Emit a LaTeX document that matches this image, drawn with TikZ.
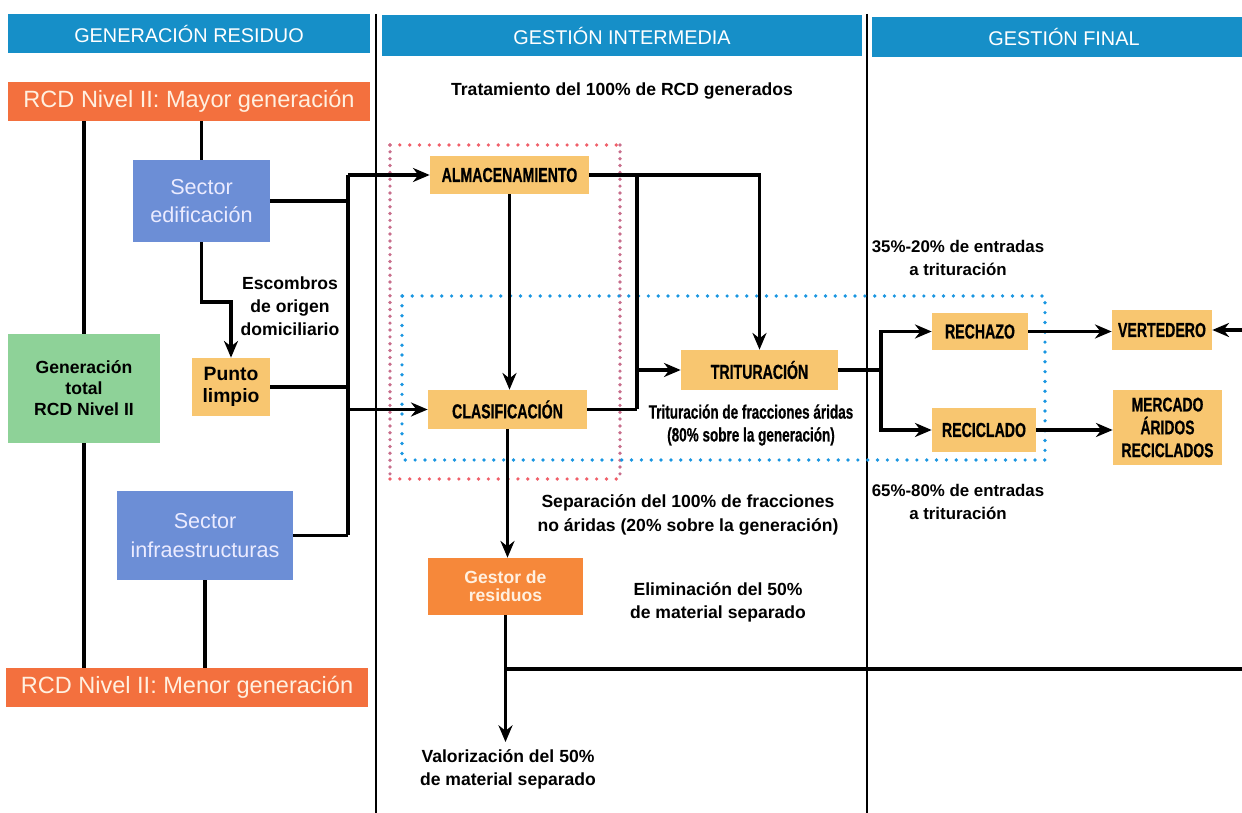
\documentclass[tikz,border=0pt]{standalone}
\usepackage{fontspec}
\setmainfont{Liberation Sans}
\newfontfamily\cond[FakeStretch=0.7,BoldFeatures={FakeBold=0.6}]{Liberation Sans}
\usetikzlibrary{arrows.meta}
\definecolor{hblue}{RGB}{22,143,200}
\definecolor{lorange}{RGB}{243,112,62}
\definecolor{sblue}{RGB}{108,142,214}
\definecolor{lgreen}{RGB}{142,210,152}
\definecolor{yel}{RGB}{248,198,112}
\definecolor{gorange}{RGB}{246,136,58}
\definecolor{dred}{RGB}{240,95,105}
\definecolor{dmauve}{RGB}{200,110,140}
\definecolor{dblue}{RGB}{25,150,225}
\tikzset{
  hdr/.style={fill=hblue,text=white,inner sep=0pt,font=\fontsize{11.3}{13}\selectfont},
  lvl/.style={fill=lorange,text=white!88!orange,inner sep=0pt,minimum width=7.24cm,minimum height=0.78cm,font=\fontsize{13.4}{15}\selectfont},
  sect/.style={fill=sblue,text=white!92!blue,inner sep=0pt,align=center,font=\fontsize{12.3}{16.2}\selectfont},
  ybox/.style={fill=yel,inner sep=0pt,align=center,font=\cond\bfseries\fontsize{11.5}{13}\selectfont},
  lbl/.style={align=center,inner sep=0pt,font=\bfseries\fontsize{10}{13.2}\selectfont},
  conn/.style={line width=1.9pt},
  arr/.style={line width=1.9pt,-{Stealth[length=9.5pt,width=8pt]}},
  sepline/.style={line width=1.4pt},
  dots/.style={line width=2.1pt,line cap=round,dash pattern=on 0pt off 5.6pt},
  densedots/.style={line width=2.1pt,line cap=round,dash pattern=on 0pt off 3.9pt},
}
\begin{document}
\begin{tikzpicture}[x=0.02cm,y=-0.02cm]
\clip (0,0) rectangle (1242,813);
\fill[white] (0,0) rectangle (1242,813);
% separators
\draw[sepline] (376,14) -- (376,813);
\draw[sepline] (867,14) -- (867,813);
% headers
\node[hdr,minimum width=7.24cm,minimum height=0.78cm] (h1) at (189,33.5) {GENERACIÓN RESIDUO};
\node[hdr,minimum width=9.6cm,minimum height=0.82cm] (h2) at (622,35.5) {GESTIÓN INTERMEDIA};
\node[hdr,minimum width=7.68cm,minimum height=0.8cm] (h3) at (1064,37) {GESTIÓN FINAL};
% dotted frames
\draw[dots,dred] (390,145) -- (620,145);
\draw[dots,dred] (390,479) -- (620,479);
\draw[densedots,dmauve] (390,145) -- (390,479);
\draw[densedots,dmauve] (620,145) -- (620,479);
\draw[dots,dblue] (402,296) rectangle (1045,460);
% left column
\node[lvl] (m1) at (189,101.5) {RCD Nivel II: Mayor generación};
\node[lvl] (m2) at (187,687.5) {RCD Nivel II: Menor generación};
\node[sect,minimum width=2.74cm,minimum height=1.64cm] (se) at (201.5,201) {Sector\\edificación};
\node[fill=lgreen,inner sep=0pt,align=center,minimum width=3.04cm,minimum height=2.18cm,font=\bfseries\fontsize{10}{12}\selectfont] (gt) at (84,388.5) {Generación\\total\\RCD Nivel II};
\node[fill=yel,inner sep=0pt,align=center,minimum width=1.56cm,minimum height=1.16cm,font=\bfseries\fontsize{11}{12.5}\selectfont] (pl) at (231,387) {Punto\\limpio};
\node[sect,minimum width=3.52cm,minimum height=1.78cm] (si) at (205,535.5) {Sector\\infraestructuras};
\node[lbl] (esc) at (290,306) {Escombros\\de origen\\domiciliario};
% middle column
\node[lbl] (trat) at (622,91) {Tratamiento del 100\% de RCD generados};
\node[ybox,minimum width=3.18cm,minimum height=0.76cm] (al) at (509.5,175) {ALMACENAMIENTO};
\node[ybox,minimum width=3.18cm,minimum height=0.78cm] (cl) at (507.5,409.5) {CLASIFICACIÓN};
\node[ybox,minimum width=3.14cm,minimum height=0.8cm] (tr) at (759.5,370) {TRITURACIÓN};
\node[align=center,inner sep=0pt,font=\cond\bfseries\fontsize{11}{13}\selectfont] (trl) at (751,425) {Trituración de fracciones áridas\\(80\% sobre la generación)};
\node[lbl] (sep) at (688,515) {Separación del 100\% de fracciones\\no áridas (20\% sobre la generación)};
\node[fill=gorange,text=white!88!orange,inner sep=0pt,align=center,minimum width=3.1cm,minimum height=1.14cm,font=\bfseries\fontsize{10}{10.5}\selectfont] (gr) at (505.5,586.5) {Gestor de\\residuos};
\node[lbl] (eli) at (718,602) {Eliminación del 50\%\\de material separado};
\node[lbl] (val) at (508,769) {Valorización del 50\%\\de material separado};
% right column
\node[lbl,font=\bfseries\fontsize{9.6}{13}\selectfont] (p35) at (958,258) {35\%-20\% de entradas\\a trituración};
\node[lbl,font=\bfseries\fontsize{9.6}{13}\selectfont] (p65) at (958,502) {65\%-80\% de entradas\\a trituración};
\node[ybox,minimum width=1.92cm,minimum height=0.74cm] (re) at (980,331.5) {RECHAZO};
\node[ybox,minimum width=2.08cm,minimum height=0.88cm] (rc) at (984,430) {RECICLADO};
\node[ybox,minimum width=2.0cm,minimum height=0.8cm] (ve) at (1162,330) {VERTEDERO};
\node[ybox,minimum width=2.18cm,minimum height=1.5cm,font=\cond\bfseries\fontsize{11.3}{13}\selectfont] (me) at (1167.5,427.5) {MERCADO\\ÁRIDOS\\RECICLADOS};
% coordinates
\coordinate (b1) at (348,175);
\coordinate (b2) at (348,535.5);
\coordinate (k1) at (201.5,302);
\coordinate (j1) at (637,175);
\coordinate (j3) at (881,370);
\coordinate (v1) at (505.5,742);
\coordinate (hb) at (505.5,669);
\coordinate (e2) at (1242,669);
\coordinate (e1) at (1242,330);
% left connectors
\draw[conn] (gt.north) -- (gt.north |- m1.south);
\draw[conn] (gt.south) -- (gt.south |- m2.north);
\draw[conn] (se.north) -- (se.north |- m1.south);
\draw[conn] (si.south) -- (si.south |- m2.north);
\draw[arr] (se.south) -- (k1) -| (pl.north);
\draw[conn] (se.east) -- (se.east -| b1);
\draw[conn] (pl.east) -- (pl.east -| b1);
\draw[conn] (si.east) -- (b2);
\draw[conn] (b1) -- (b2);
\draw[arr] (b1) -- (al.west);
\draw[arr] (cl.west -| b1) -- (cl.west);
% middle connectors
\draw[arr] (al.south) -- (al.south |- cl.north);
\draw[arr] (al.east) -| (tr.north);
\draw[conn] (j1) -- (cl.east -| j1);
\draw[conn] (cl.east) -- (cl.east -| j1);
\draw[arr] (tr.west -| j1) -- (tr.west);
\draw[arr] (cl.south) -- (cl.south |- gr.north);
\draw[arr] (gr.south) -- (v1);
\draw[conn] (hb) -- (e2);
% right connectors
\draw[conn] (tr.east) -- (j3);
\draw[arr] (j3) |- (re.west);
\draw[arr] (j3) |- (rc.west);
\draw[arr] (re.east) -- (re.east -| ve.west);
\draw[arr] (rc.east) -- (rc.east -| me.west);
\draw[arr] (e1) -- (ve.east);
\end{tikzpicture}
\end{document}
